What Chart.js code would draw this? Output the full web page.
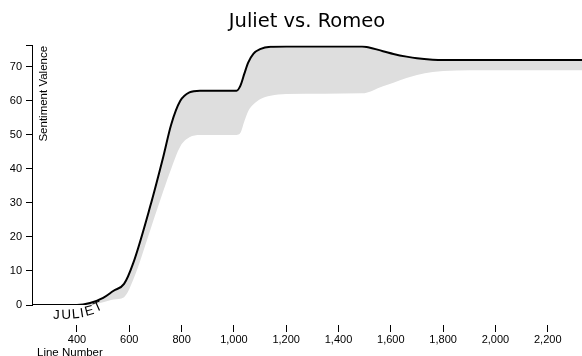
<!DOCTYPE html>
<html>
<head>
<meta charset="utf-8">
<script src="https://cdn.jsdelivr.net/npm/chart.js@4/dist/chart.umd.min.js"></script>
<style>
  body { margin: 0; background: #fff; }
  canvas { display: block; }
</style>
</head>
<body>
<canvas id="arc-chart" width="582" height="356"></canvas>
<script>
// 資料: 行數 (x) 與兩個角色的情感值
const lineNumbers = [228, 400, 450, 500, 540, 580, 615, 680, 730, 760, 795, 830, 870, 1010, 1025, 1040, 1055, 1075, 1100, 1140, 1200, 1490, 1570, 1610, 1660, 1700, 1760, 1800, 1900, 2331];
const julietValues = [0, 0, 0.6, 2.1, 4.2, 6.2, 12.3, 29, 43.6, 53, 60, 62.5, 63, 63, 64.5, 68, 71.3, 73.9, 75.2, 75.9, 76, 76, 74.6, 73.8, 73, 72.5, 72.1, 72, 72, 72];
const romeoValues = [0, 0, 0, 0.8, 1.6, 2.3, 7.4, 22, 33.5, 40, 46.6, 49.3, 50, 50, 50.6, 54, 57, 59, 60.5, 61.5, 62, 62.2, 64.3, 65.3, 66.7, 67.6, 68.5, 68.8, 69, 69];
const xTicks = [400, 600, 800, 1000, 1200, 1400, 1600, 1800, 2000, 2200];
const yTicks = [0, 10, 20, 30, 40, 50, 60, 70];
const juliet = { label: "JULIET", at: 310 };

const toPoints = (values) => values.map((v, i) => ({ x: lineNumbers[i], y: v }));

// 軸標題與 JULIET 標記
const labelsPlugin = {
  id: "labels",
  afterDraw(chart) {
    const { ctx, chartArea, scales } = chart;
    ctx.save();
    ctx.fillStyle = "#000";

    // y 軸標題 (在圖內, 旋轉)
    ctx.font = "11.5px 'Liberation Sans', Arial, sans-serif";
    ctx.save();
    ctx.translate(chartArea.left + 14.5, chartArea.top + 0.5);
    ctx.rotate(-Math.PI / 2);
    ctx.textAlign = "right";
    ctx.textBaseline = "alphabetic";
    ctx.fillText("Sentiment Valence", 0, 0);
    ctx.restore();

    // x 軸標題
    ctx.textAlign = "left";
    ctx.textBaseline = "alphabetic";
    ctx.fillText("Line Number", chartArea.left + 5, chart.height);

    // JULIET 沿著曲線
    const x0 = scales.x.getPixelForValue(juliet.at);
    const y0 = scales.y.getPixelForValue(0);
    const letters = [
      ["J", -0.5, 14, 0],
      ["U", 8, 14, 2],
      ["L", 18.8, 13.6, 5],
      ["I", 27.4, 12.6, 9],
      ["E", 32.5, 11, 15],
      ["T", 42.3, 7.3, 24],
    ];
    ctx.font = "13.5px 'Liberation Sans', Arial, sans-serif";
    letters.forEach(([ch, dx, dy, deg]) => {
      ctx.save();
      ctx.translate(x0 + dx, y0 + dy);
      ctx.rotate((-deg * Math.PI) / 180);
      ctx.fillText(ch, 0, 0);
      ctx.restore();
    });
    ctx.restore();
  },
};

const tickFont = { family: "'Liberation Sans', Arial, sans-serif", size: 11 };

new Chart(document.getElementById("arc-chart"), {
  type: "line",
  data: {
    datasets: [
      {
        label: "Juliet",
        data: toPoints(julietValues),
        borderColor: "#000",
        borderWidth: 2,
        pointRadius: 0,
        fill: false,
        cubicInterpolationMode: "monotone",
      },
      {
        label: "Romeo",
        data: toPoints(romeoValues),
        borderWidth: 0,
        borderColor: "rgba(0,0,0,0)",
        backgroundColor: "#dedede",
        pointRadius: 0,
        fill: "-1",
        cubicInterpolationMode: "monotone",
      },
    ],
  },
  options: {
    responsive: false,
    devicePixelRatio: 1,
    animation: false,
    layout: { padding: 0 },
    plugins: {
      legend: { display: false },
      tooltip: { enabled: false },
      title: {
        display: true,
        fullSize: false,
        text: "Juliet vs. Romeo",
        color: "#000",
        font: { family: "'DejaVu Sans', Verdana, sans-serif", size: 19.5, weight: "normal" },
        padding: { top: 10, bottom: 12 },
      },
    },
    scales: {
      x: {
        type: "linear",
        min: 228,
        max: 2331,
        afterFit: (scale) => { scale.height = 51; },
        afterBuildTicks: (scale) => { scale.ticks = xTicks.map((v) => ({ value: v })); },
        border: { display: false },
        grid: {
          drawOnChartArea: false,
          tickLength: 27,
          tickColor: "#000",
          tickWidth: 1,
          tickBorderDash: [0, 20, 7, 60],
        },
        ticks: {
          color: "#000",
          font: tickFont,
          padding: 1,
          maxRotation: 0,
          autoSkip: false,
          callback: (v) => v.toLocaleString("en-US"),
        },
      },
      y: {
        min: 0,
        max: 76.3,
        afterFit: (scale) => { scale.width = 32; },
        afterBuildTicks: (scale) => {
          scale.ticks = yTicks.map((v) => ({ value: v })).concat([{ value: scale.max }]);
        },
        border: { display: true, color: "#000", width: 1 },
        grid: {
          drawOnChartArea: false,
          tickLength: 6,
          tickColor: "#000",
          tickWidth: 1,
        },
        ticks: {
          color: "#000",
          font: tickFont,
          padding: 4,
          autoSkip: false,
          callback: (v) => (yTicks.includes(v) ? String(v) : ""),
        },
      },
    },
  },
  plugins: [labelsPlugin],
});
</script>
</body>
</html>
